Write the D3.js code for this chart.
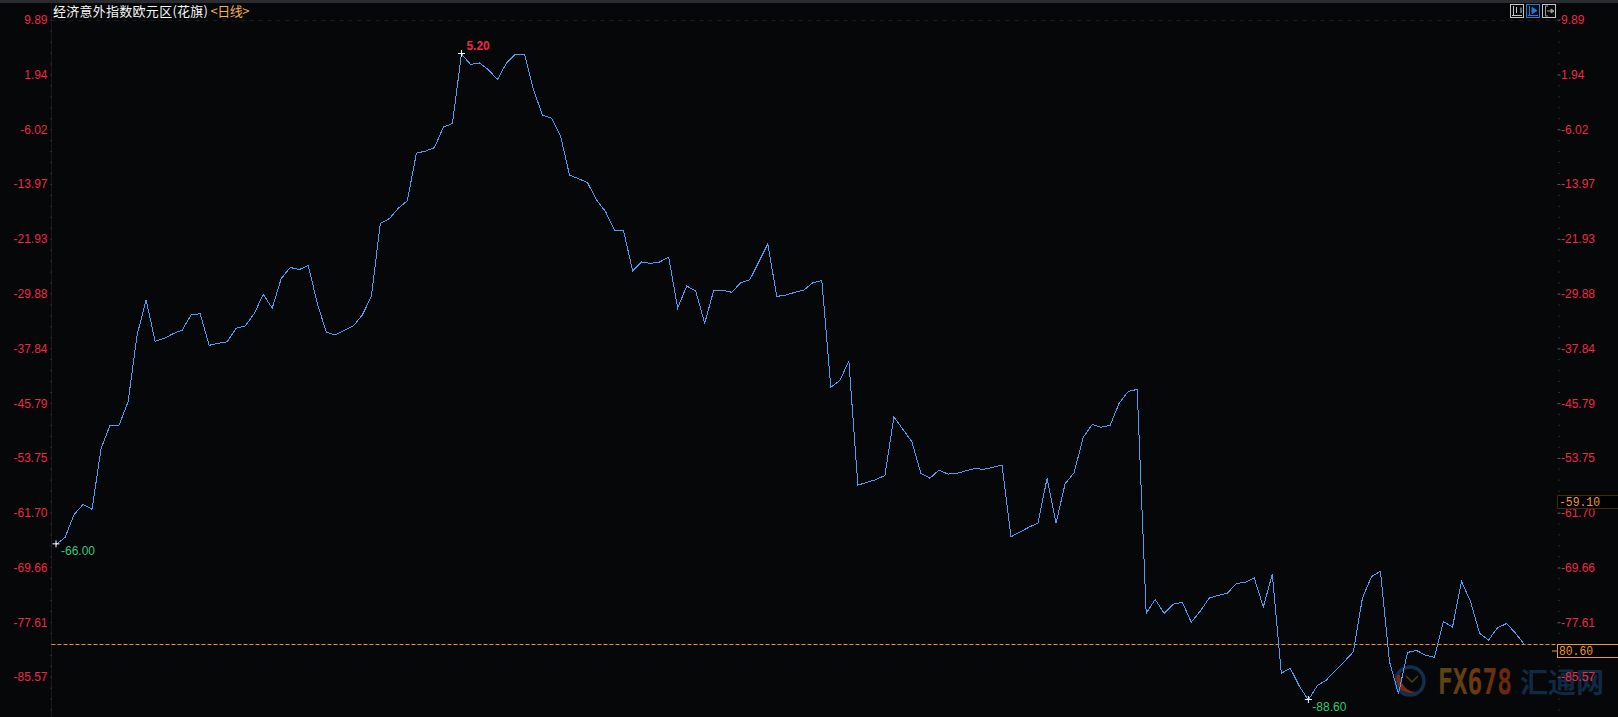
<!DOCTYPE html>
<html><head><meta charset="utf-8">
<style>
html,body{margin:0;padding:0;background:#060708;overflow:hidden}
svg{display:block}
text{font-family:"Liberation Sans",Arial,sans-serif}
</style>
<script src="https://cdnjs.cloudflare.com/ajax/libs/d3/7.8.5/d3.min.js"></script>
</head><body><svg id="c" width="1618" height="717"></svg>
<script>
const surpriseIndex = [
-66.0,-65.0,-61.7,-60.2,-60.9,-52.1,-48.7,-48.7,-45.3,-35.6,
-30.5,-36.5,-36.1,-35.4,-34.9,-32.7,-32.5,-37.1,-36.8,-36.6,
-34.6,-34.3,-32.5,-29.7,-31.7,-27.4,-25.8,-26.1,-25.5,-31.0,
-35.2,-35.6,-34.9,-34.3,-32.7,-30.0,-19.4,-18.7,-17.2,-16.1,
-9.2,-8.9,-8.4,-5.4,-4.9,5.2,3.7,3.9,2.9,1.5,
3.9,5.2,5.2,0.0,-3.7,-4.1,-6.7,-12.4,-12.9,-13.5,
-16.0,-17.7,-20.4,-20.5,-26.3,-25.0,-25.2,-25.0,-24.3,-31.7,
-28.5,-29.2,-33.9,-29.1,-29.1,-29.4,-28.0,-27.6,-25.0,-22.4,
-30.0,-29.8,-29.4,-29.1,-28.0,-27.7,-43.2,-42.2,-39.4,-57.4,
-57.0,-56.6,-56.0,-47.5,-49.3,-51.1,-55.7,-56.4,-55.2,-55.8,
-55.7,-55.3,-55.0,-55.1,-54.8,-54.5,-64.9,-64.2,-63.5,-62.9,
-56.4,-62.9,-57.2,-55.6,-50.5,-48.6,-49.0,-48.7,-45.5,-43.8,
-43.5,-76.0,-74.0,-76.0,-74.7,-74.4,-77.3,-75.7,-73.8,-73.4,
-73.1,-71.7,-71.5,-70.9,-75.1,-70.3,-84.7,-84.0,-86.6,-88.6,
-86.5,-85.7,-84.3,-83.0,-81.6,-73.8,-70.7,-69.9,-83.0,-87.7,
-81.7,-81.4,-82.1,-82.4,-77.2,-78.0,-71.4,-74.3,-78.9,-79.9,
-78.1,-77.5,-78.9,-80.6];
const tickValues = [9.89,1.94,-6.02,-13.97,-21.93,-29.88,-37.84,-45.79,-53.75,-61.70,-69.66,-77.61,-85.57];
const extremes = [
  {index:0,  label:"-66.00", color:"#35c878", dx:5,  dy:6.5, bold:false},
  {index:45, label:"5.20",   color:"#f0284a", dx:5,  dy:-8.5, bold:true},
  {index:139,label:"-88.60", color:"#35c878", dx:4,  dy:7, bold:false}
];
const lastValue = -80.60;
const lastLabel = "80.60";
const sideValue = -59.10;
const sideLabel = "-59.10";
const titleMain = "经济意外指数欧元区(花旗)";
const titlePeriod = "<日线>";

const W=1618,H=717, L=51.5, R=1557.5;
const svg=d3.select("#c");
const x=d3.scaleLinear().domain([0,surpriseIndex.length-1]).range([56,1524.6]);
const y=d3.scaleLinear().domain([5.2,-88.6]).range([54,700]);
const axisShift=-2;

svg.append("rect").attr("width",W).attr("height",H).attr("fill","#060708");
svg.append("rect").attr("width",W).attr("height",3).attr("fill","#2a2c30");

// watermark
const wm=svg.append("g");
const defs=svg.append("defs");
const grad=defs.append("linearGradient").attr("id","wmg").attr("x1","0").attr("x2","1").attr("y1","0").attr("y2","0");
grad.append("stop").attr("offset","0").attr("stop-color","#5c4614");
grad.append("stop").attr("offset","0.5").attr("stop-color","#6a3a14");
grad.append("stop").attr("offset","1").attr("stop-color","#6a2410");
wm.append("circle").attr("cx",1410).attr("cy",681).attr("r",14).attr("fill","none").attr("stroke","#12304e").attr("stroke-width",3.5);
wm.append("path").attr("d","M1397 675 C1394 688 1405 696 1417 692 C1408 692 1401 686 1400 675 Z").attr("fill","#7a2a14");
wm.append("path").attr("d","M1406 676 L1412 682 L1418 676").attr("fill","none").attr("stroke","#4a4016").attr("stroke-width",1.5);
wm.append("text").attr("x",1438).attr("y",694).attr("font-size",36).attr("font-weight","bold")
  .attr("textLength",74).attr("lengthAdjust","spacingAndGlyphs")
  .attr("fill","url(#wmg)").style("font-family","'DejaVu Sans Mono','Liberation Mono',monospace").text("FX678");
wm.append("text").attr("x",1520).attr("y",693).attr("font-size",28).attr("font-weight","bold")
  .attr("fill","#0e2a44").style("font-family","'Noto Sans CJK SC'").text("汇通网");

// frame lines
svg.append("line").attr("x1",L).attr("x2",L).attr("y1",3).attr("y2",H).attr("stroke","#16181a");
svg.append("line").attr("x1",L).attr("x2",R).attr("y1",20.5).attr("y2",20.5).attr("stroke","#1a1c1e").attr("stroke-dasharray","4 5");

// axes
const step=(tickValues[0]-tickValues[1])/5;
const minor=d3.range(0,65).map(i=>tickValues[0]-i*step);
const gMinorL=svg.append("g").attr("transform",`translate(${L},${axisShift})`).call(d3.axisLeft(y).tickValues(minor).tickSize(1).tickFormat(""));
const gMinorR=svg.append("g").attr("transform",`translate(${R+1},${axisShift})`).call(d3.axisRight(y).tickValues(minor).tickSize(1).tickFormat(""));
[gMinorL,gMinorR].forEach(g=>{g.select(".domain").remove();g.selectAll("line").attr("stroke","#44464a");});
const fmt=d=>d.toFixed(2);
const gL=svg.append("g").attr("transform",`translate(${L},${axisShift})`).call(d3.axisLeft(y).tickValues(tickValues).tickSize(0).tickPadding(4).tickFormat(fmt));
const gR=svg.append("g").attr("transform",`translate(${R},${axisShift})`).call(d3.axisRight(y).tickValues(tickValues).tickSize(3).tickPadding(1).tickFormat(fmt));
[gL,gR].forEach(g=>{
  g.select(".domain").remove();
  g.selectAll("line").attr("stroke","#55575a");
  g.selectAll("text").attr("fill","#ee2846").attr("font-size",12).style("font-family","'Liberation Sans',Arial,sans-serif");
});
gR.selectAll("text").attr("x",3.5);

// last value line
const yLast=Math.floor(y(lastValue))+0.5;
svg.append("line").attr("x1",L).attr("x2",R).attr("y1",yLast).attr("y2",yLast)
  .attr("stroke","#f0922a").attr("stroke-dasharray","4 2");

// series
const line=d3.line().x((d,i)=>x(i)).y(d=>y(d));
svg.append("path").datum(surpriseIndex).attr("d",line).attr("fill","none")
  .attr("stroke","#4f9cf7").attr("stroke-width",1).style("shape-rendering","crispEdges");

// extreme marks
extremes.forEach(e=>{
  const px=x(e.index),py=y(surpriseIndex[e.index]);
  svg.append("path").attr("d",`M${px-3.5} ${py-0.5}H${px+3.5}M${px} ${py-4}V${py+3}`).attr("stroke","#fff").attr("stroke-width",1).attr("fill","none");
  svg.append("text").attr("x",px+e.dx).attr("y",py+e.dy).attr("dy","0.35em").attr("fill",e.color)
    .attr("font-size",12).attr("font-weight",e.bold?"bold":"normal").text(e.label);
});

// value boxes
const mono="'Liberation Mono','DejaVu Sans Mono',monospace";
const sideTop=495.5;
svg.append("rect").attr("x",1557.5).attr("y",sideTop).attr("width",62).attr("height",13).attr("fill","#000");
svg.append("path").attr("d",`M1618 ${sideTop}H1557.5V${sideTop+13}H1618`).attr("fill","none").attr("stroke","#3a2a10");
svg.append("text").attr("x",1559).attr("y",sideTop+10.5).attr("fill","#f0982e").attr("font-size",13)
  .attr("textLength",41).attr("lengthAdjust","spacingAndGlyphs").style("font-family",mono).text(sideLabel);
svg.append("rect").attr("x",1557.5).attr("y",yLast).attr("width",62).attr("height",13).attr("fill","#000").attr("stroke","#f0982e");
svg.append("line").attr("x1",1552).attr("x2",1557).attr("y1",yLast+6.5).attr("y2",yLast+6.5).attr("stroke","#f0982e");
svg.append("text").attr("x",1559).attr("y",yLast+10.5).attr("fill","#f0982e").attr("font-size",13)
  .attr("textLength",34).attr("lengthAdjust","spacingAndGlyphs").style("font-family",mono).text(lastLabel);

// title
const cjk="'Noto Sans CJK SC','Noto Sans',sans-serif";
svg.append("text").attr("x",53).attr("y",15.5).attr("fill","#f6f6f6").attr("font-size",13)
  .attr("textLength",155).attr("lengthAdjust","spacing").style("font-family",cjk).text(titleMain);
svg.append("text").attr("x",210.5).attr("y",15.5).attr("fill","#f0b050").attr("font-size",13)
  .attr("textLength",39).attr("lengthAdjust","spacing").style("font-family",cjk).text(titlePeriod);

// toolbar buttons
const btnX=[1510,1526,1542], btnCol=["#c4c4c4","#1a7fd6","#c4c4c4"], btnFill=["#c4c4c4","#1a7fd6","#9a9a9a"];
btnX.forEach((bx,i)=>{
  const g=svg.append("g").attr("transform",`translate(${bx},4)`);
  g.append("rect").attr("x",0.5).attr("y",0.5).attr("width",13).attr("height",13).attr("fill","#060708").attr("stroke",btnCol[i]);
  if(i<2){
    g.append("path").attr("d","M3.5 2V11.5M2 11.5H12").attr("stroke",btnFill[i]).attr("fill","none");
    g.append("path").attr("d",i==0?"M6.5 3V9M11 3.5V9":"M6 3.5L11 6.5L6 9.5Z").attr("stroke",btnFill[i]).attr("fill",btnFill[i]);
  } else {
    g.append("path").attr("d","M3.5 2V12M3.5 2H6M3.5 12H6").attr("stroke",btnFill[i]).attr("fill","none");
    g.append("path").attr("d","M5 7H10M9 5L12 7L9 9Z").attr("stroke",btnFill[i]).attr("fill",btnFill[i]);
  }
});
</script></body></html>
